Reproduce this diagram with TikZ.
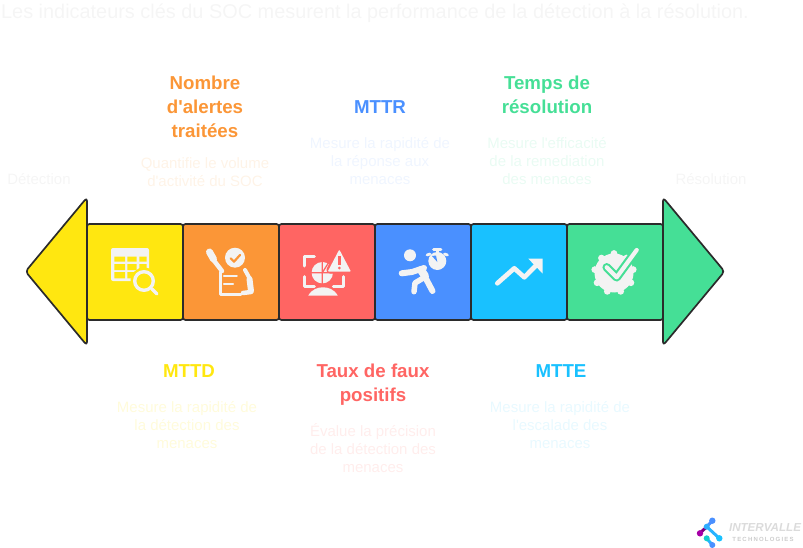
\documentclass[tikz,border=0pt]{standalone}
\usepackage{fontspec}
\setmainfont{Liberation Sans}
\usepackage{xcolor}
\definecolor{cyel}{HTML}{FFE710}
\definecolor{cora}{HTML}{FB9637}
\definecolor{cred}{HTML}{FF6563}
\definecolor{cblu}{HTML}{4A90FF}
\definecolor{ccya}{HTML}{19C1FF}
\definecolor{cgre}{HTML}{45DF96}
\definecolor{cdrk}{HTML}{2B2B2B}
\definecolor{cico}{HTML}{F3F3F3}
\usetikzlibrary{positioning}

\begin{document}
\begin{tikzpicture}[x=1pt,y=-1pt,line join=round,
main node/.style={rectangle,draw=cdrk,line width=1.7pt,rounded corners=2.5pt,minimum width=96pt,minimum height=96pt,inner sep=0pt,outer sep=0pt},
head node/.style={draw=cdrk,line width=1.7pt,rounded corners=3.5pt,line join=round},
title node/.style={font=\fontsize{18.7}{24}\selectfont\bfseries,align=center,inner sep=0pt},
desc node/.style={font=\fontsize{15}{18}\selectfont,align=center,inner sep=0pt},
ico/.style={draw=cico,line width=3pt,line cap=round,fill=none},
icf/.style={fill=cico,draw=none}]
\path[use as bounding box] (0,0) rectangle (803,548);
\node[font=\fontsize{19.9}{22}\selectfont,text=black!4,inner sep=0pt] (caption) at (375,13) {Les indicateurs clés du SOC mesurent la performance de la détection à la résolution.};
\begin{scope}[every node/.style={main node}]
\node[fill=cyel] (s1) at (135,272) {};
\node[fill=cora] (s2) at (231,272) {};
\node[fill=cred] (s3) at (327,272) {};
\node[fill=cblu] (s4) at (423,272) {};
\node[fill=ccya] (s5) at (519,272) {};
\node[fill=cgre] (s6) at (615,272) {};
\end{scope}
\draw[head node,fill=cyel] (87,271.5) -- (87,197.5) -- (25.5,271.5) -- (87,345.5) -- cycle;
\draw[head node,fill=cgre] (663,271.5) -- (663,197.5) -- (724.5,271.5) -- (663,345.5) -- cycle;
%table and lens
\fill[cico,rounded corners=2pt] (111,248) rectangle (149,281);
\fill[cyel] (114.3,256.7) rectangle (125,261.7) (127.3,256.7) rectangle (136.7,261.7) (139.3,256.7) rectangle (146.7,261.7);
\fill[cyel] (114.3,264) rectangle (125,270) (127.3,264) rectangle (136.7,270) (139.3,264) rectangle (146.7,270);
\fill[cyel] (114.3,272) rectangle (125,278.3) (127.3,272) rectangle (136.7,278.3);
\fill[cyel] (144,281) circle (13.5);
\draw[ico,line width=3.4pt] (144,281) circle (9.3);
\draw[ico,line width=3.4pt] (152,289) -- (157,294);
%hands and form
\fill[cico] (235,257.7) circle (10);
\draw[cora,line width=2.2pt,line cap=round] (230.7,258.3) -- (234,261.7) -- (240,255);
\draw[ico,line width=3pt] (220,272) -- (220,294) -- (241,294);
\draw[ico,line width=2.4pt] (224,276) -- (236.7,276) (224,284) -- (233,284);
\draw[ico,line width=7pt,line cap=round] (209.5,252) -- (213.5,259);
\draw[ico,line width=4.5pt] (213.5,260) -- (222,271);
\draw[ico,line width=4pt] (245,270) -- (250,279);
\draw[ico,line width=6pt] (249.5,279) -- (251,291);
\draw[ico,line width=4.5pt] (243,293) -- (251,292);
%scan and warning
\draw[ico,line cap=round] (304.3,266) -- (304.3,256.7) -- (314.3,256.7) (304.3,276.7) -- (304.3,286) -- (314.3,286) (343.3,276.7) -- (343.3,286) -- (333.3,286);
\fill[cico] (322.3,272.7) circle (10.7);
\draw[cred,line width=1.3pt] (322.3,260) -- (322.3,285) (310,272.7) -- (335,272.7) (322.3,272.7) -- (329,262);
\draw[head node,draw=cred,line width=3pt,fill=cico] (339.3,248) -- (352,272) -- (326.6,272) -- cycle;
\fill[icf,rounded corners=1pt] (339.3,249.5) -- (351,271.7) -- (327.7,271.7) -- cycle;
\draw[cred,line width=2.4pt] (339.3,256) -- (339.3,264.5);
\fill[cred] (339.3,268) circle (1.5);
\fill[cico] (308.3,295.5) .. controls (312,289) and (318,287.3) .. (323,287.3) .. controls (328,287.3) and (334,289) .. (337.7,295.5) -- cycle;
%runner and watch
\fill[cico] (410,255.3) circle (6);
\draw[ico,line width=6pt] (401.7,273.3) -- (412,272) -- (424,268);
\draw[ico,line width=8pt] (421,270) -- (425,276);
\draw[ico,line width=5.5pt] (425,277) -- (415,283) -- (414,291.7);
\draw[ico,line width=6pt] (424,275) -- (432.5,291);
\fill[cblu] (437.3,261) circle (11);
\fill[cico] (437.3,261) circle (9);
\fill[cblu] (437.3,262) -- (432,256) -- (436,255.5) -- cycle;
\draw[ico,line width=2.6pt] (433.5,249.3) -- (441,249.3) (437.3,249.3) -- (437.3,253);
\draw[ico,line width=2.8pt] (427,255) -- (430,254) (447.5,255) -- (444.5,254);
%trend
\draw[ico,line width=4.7pt] (497.3,283.3) -- (514.3,268.3) -- (524.3,277.3) -- (536,265.5);
\fill[cico] (528.3,258.7) -- (542.6,258.7) -- (542.6,273.5) -- cycle;
%gear and check
\fill[cico] (614,273) circle (19.5);
\foreach \a in {-90,-50,...,260} {\fill[cico] (614,273) ++(\a:19.5) circle (3.4);}
\draw[cgre,line width=8.5pt,line cap=round] (606.7,267.3) -- (616.7,277.3) -- (636.7,250);
\draw[ico,line width=4.2pt] (606.7,267.3) -- (616.7,277.3) -- (636.7,250);
%labels up and down
\begin{scope}[every node/.style={title node}]
\node[text=cora] (t2) at (205,107) {Nombre\\d\textquotesingle alertes\\traitées};
\node[text=cblu] (t4) at (380,107) {MTTR};
\node[text=cgre] (t6) at (547,95) {Temps de\\résolution};
\node[text=cyel] (t1) at (189,371) {MTTD};
\node[text=cred] (t3) at (373,384.5) {Taux de faux\\positifs};
\node[text=ccya] (t5) at (561,371) {MTTE};
\end{scope}
\begin{scope}[every node/.style={desc node}]
\node[text=black!4] (detect) at (39,179) {Détection};
\node[text=black!4] (resol) at (711,179) {Résolution};
\node[text=cora!12] (d2) at (205,172) {Quantifie le volume\\d\textquotesingle activité du SOC};
\node[text=cblu!9] (d4) at (380,161) {Mesure la rapidité de\\la réponse aux\\menaces};
\node[text=cgre!12] (d6) at (547,161) {Mesure l\textquotesingle efficacité\\de la remediation\\des menaces};
\node[text=cyel!15] (d1) at (187,425) {Mesure la rapidité de\\la détection des\\menaces};
\node[text=cred!12] (d3) at (373,448) {Évalue la précision\\de la détection des\\menaces};
\node[text=ccya!10] (d5) at (560,425) {Mesure la rapidité de\\l\textquotesingle escalade des\\menaces};
\end{scope}
%logo
\draw[cblu,line width=3pt] (712.3,520.7) -- (706.7,526.7);
\draw[ccya!70!cblu,line width=3pt] (706.7,526.7) -- (719.3,538.3) (706.7,538.3) -- (712.3,545);
\draw[violet,line width=3pt] (706.7,526.7) -- (700,533.3);
\fill[cblu] (712.3,520.7) circle (3.2);
\fill[ccya!60!cblu] (706.7,526.7) circle (3);
\fill[violet!70!magenta] (700,533.3) circle (3.2);
\fill[ccya!80!green] (706.7,538.3) circle (3);
\fill[ccya] (719.3,538.3) circle (3.2);
\fill[cblu] (712.3,545) circle (3);
\node[font=\fontsize{11.6}{12}\selectfont\bfseries\itshape,text=black!14,inner sep=0pt] (logo1) at (765,528) {INTERVALLE};
\node[font=\fontsize{6}{7}\selectfont\bfseries\addfontfeature{LetterSpace=20},text=black!20,inner sep=0pt] (logo2) at (763,539) {TECHNOLOGIES};
\end{tikzpicture}
\end{document}
